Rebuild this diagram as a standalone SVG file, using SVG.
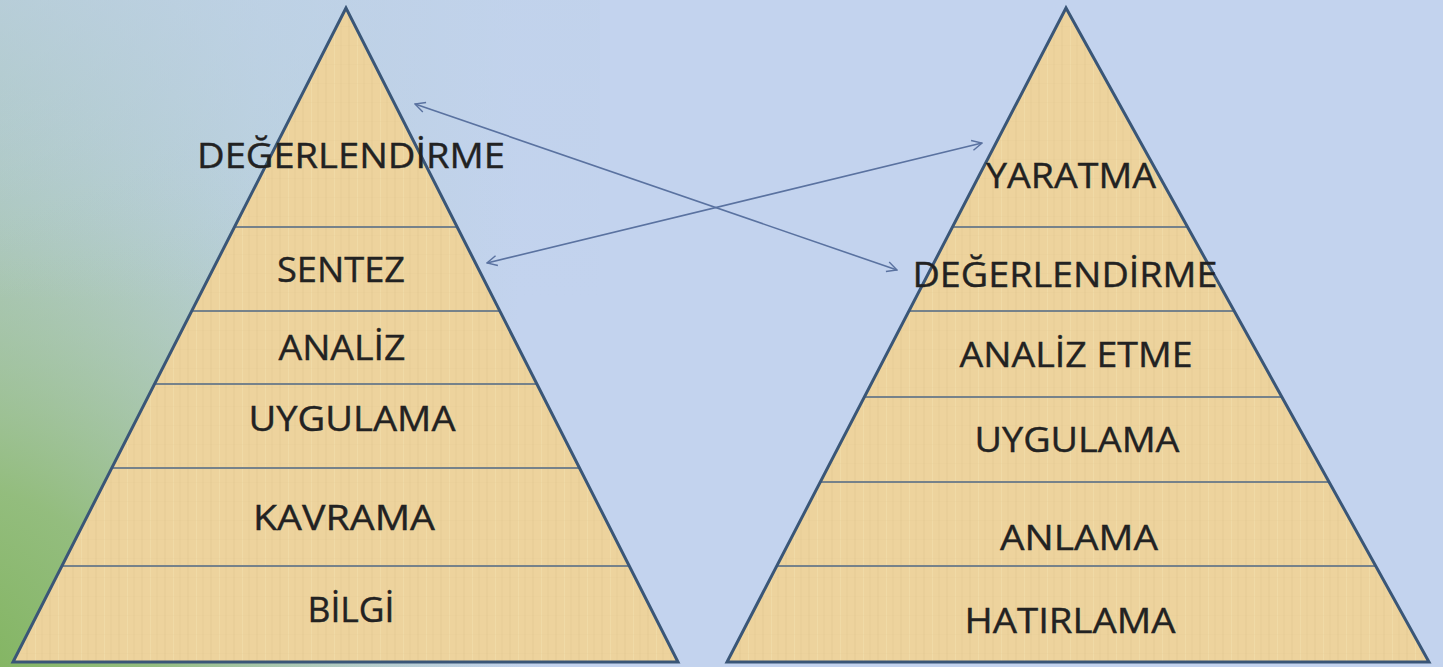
<svg xmlns="http://www.w3.org/2000/svg" width="1443" height="667" viewBox="0 0 1443 667">
  <defs>
    <linearGradient id="bgH" gradientUnits="userSpaceOnUse" x1="0" y1="0" x2="520" y2="0">
      <stop offset="0" stop-color="#aac7bd"/>
      <stop offset="0.5" stop-color="#b9d0dc"/>
      <stop offset="1" stop-color="#c3d3ee"/>
    </linearGradient>
    <radialGradient id="bgG" gradientUnits="userSpaceOnUse" cx="-60" cy="700" r="620">
      <stop offset="0" stop-color="#7db257" stop-opacity="1"/>
      <stop offset="0.35" stop-color="#8fbb72" stop-opacity="0.85"/>
      <stop offset="0.7" stop-color="#a6c49e" stop-opacity="0.35"/>
      <stop offset="1" stop-color="#b5cdd0" stop-opacity="0"/>
    </radialGradient>
    <linearGradient id="bgT" gradientUnits="userSpaceOnUse" x1="0" y1="0" x2="0" y2="300">
      <stop offset="0" stop-color="#c0d2ea" stop-opacity="0.6"/>
      <stop offset="1" stop-color="#c0d2ea" stop-opacity="0"/>
    </linearGradient>
    <pattern id="papyrus" patternUnits="userSpaceOnUse" width="23" height="19">
      <rect width="23" height="19" fill="#edd39d"/>
      <rect x="3" width="2" height="19" fill="#dcc08a" opacity="0.22"/>
      <rect x="12" width="1" height="19" fill="#f6e3b5" opacity="0.4"/>
      <rect x="18" width="2" height="19" fill="#dcc08a" opacity="0.18"/>
      <rect y="7" width="23" height="1" fill="#dcc18b" opacity="0.15"/>
    </pattern>
    <clipPath id="clipL"><polygon points="346,8 13,662 678,662"/></clipPath>
    <clipPath id="clipR"><polygon points="1066,8 727,662 1429,662"/></clipPath>
    <marker id="arr" viewBox="0 0 12 12" refX="11" refY="6" markerWidth="12" markerHeight="12" markerUnits="userSpaceOnUse" orient="auto-start-reverse">
      <path d="M1,1 L11,6 L1,11" fill="none" stroke="#5a72a0" stroke-width="1.4"/>
    </marker>
  </defs>
  <style>
    .pyr { fill: none; stroke: #3a5677; stroke-width: 3; stroke-linejoin: miter; }
    .div { stroke: #76828a; stroke-width: 2; }
    .lbl { font-family: "Open Sans", "Liberation Sans", sans-serif; font-size: 35px; fill: #222222; text-anchor: middle; stroke: #222222; stroke-width: 0.4; }
    .conn { stroke: #5a72a0; stroke-width: 1.6; fill: none; }
  </style>
  <rect width="1443" height="667" fill="url(#bgH)"/>
  <rect width="1443" height="667" fill="url(#bgG)"/>
  <rect width="600" height="300" fill="url(#bgT)"/>

  <g id="pyramid-left">
    <polygon points="346,8 13,662 678,662" fill="url(#papyrus)"/>
    <g clip-path="url(#clipL)">
      <line class="div" x1="0" y1="227" x2="700" y2="227"/>
      <line class="div" x1="0" y1="311" x2="700" y2="311"/>
      <line class="div" x1="0" y1="384" x2="700" y2="384"/>
      <line class="div" x1="0" y1="468" x2="700" y2="468"/>
      <line class="div" x1="0" y1="566" x2="700" y2="566"/>
    </g>
    <polygon class="pyr" points="346,8 13,662 678,662"/>
  </g>

  <g id="pyramid-right">
    <polygon points="1066,8 727,662 1429,662" fill="url(#papyrus)"/>
    <g clip-path="url(#clipR)">
      <line class="div" x1="700" y1="227" x2="1443" y2="227"/>
      <line class="div" x1="700" y1="311" x2="1443" y2="311"/>
      <line class="div" x1="700" y1="397" x2="1443" y2="397"/>
      <line class="div" x1="700" y1="482" x2="1443" y2="482"/>
      <line class="div" x1="700" y1="566" x2="1443" y2="566"/>
    </g>
    <polygon class="pyr" points="1066,8 727,662 1429,662"/>
  </g>

  <g id="labels-left">
    <text class="lbl" x="351" y="168" textLength="308" lengthAdjust="spacingAndGlyphs">DEĞERLENDİRME</text>
    <text class="lbl" x="341" y="282" textLength="128" lengthAdjust="spacingAndGlyphs">SENTEZ</text>
    <text class="lbl" x="342" y="360" textLength="127" lengthAdjust="spacingAndGlyphs">ANALİZ</text>
    <text class="lbl" x="352" y="431" textLength="207" lengthAdjust="spacingAndGlyphs">UYGULAMA</text>
    <text class="lbl" x="344" y="530" textLength="182" lengthAdjust="spacingAndGlyphs">KAVRAMA</text>
    <text class="lbl" x="351" y="622" textLength="87" lengthAdjust="spacingAndGlyphs">BİLGİ</text>
  </g>

  <g id="labels-right">
    <text class="lbl" x="1071" y="188" textLength="170" lengthAdjust="spacingAndGlyphs">YARATMA</text>
    <text class="lbl" x="1065" y="287" textLength="305" lengthAdjust="spacingAndGlyphs">DEĞERLENDİRME</text>
    <text class="lbl" x="1076" y="367" textLength="233" lengthAdjust="spacingAndGlyphs">ANALİZ ETME</text>
    <text class="lbl" x="1077" y="452" textLength="205" lengthAdjust="spacingAndGlyphs">UYGULAMA</text>
    <text class="lbl" x="1079" y="550" textLength="158" lengthAdjust="spacingAndGlyphs">ANLAMA</text>
    <text class="lbl" x="1070" y="633" textLength="211" lengthAdjust="spacingAndGlyphs">HATIRLAMA</text>
  </g>

  <g id="connectors">
    <line class="conn" x1="415" y1="104" x2="897" y2="270" marker-start="url(#arr)" marker-end="url(#arr)"/>
    <line class="conn" x1="487" y1="263" x2="982" y2="143" marker-start="url(#arr)" marker-end="url(#arr)"/>
  </g>
</svg>
